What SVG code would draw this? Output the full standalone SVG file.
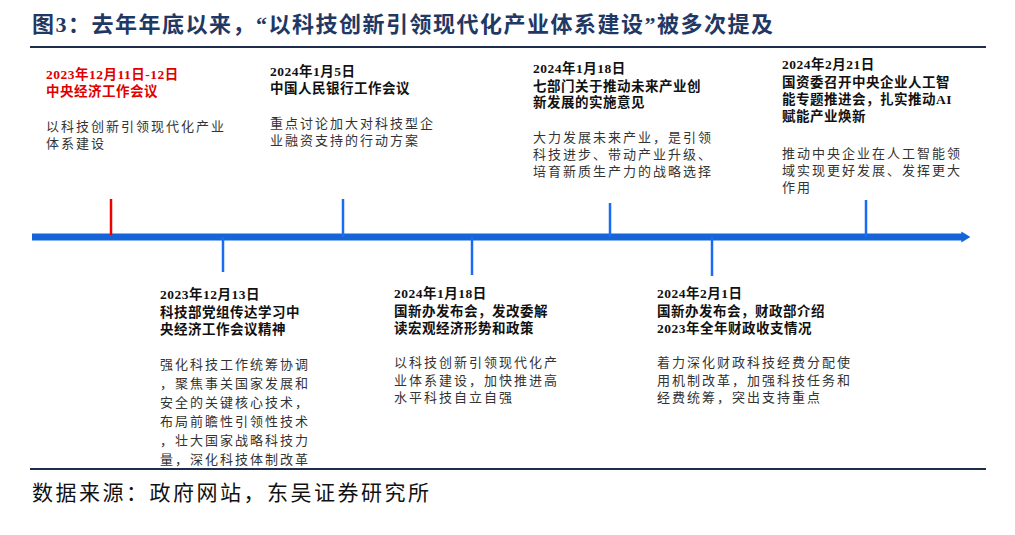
<svg xmlns="http://www.w3.org/2000/svg" width="1015" height="535" viewBox="0 0 1015 535">
<defs>
<style>
text{font-family:"Liberation Serif","Noto Sans CJK SC",serif;font-size:13.5px;fill:#111}
.b{font-weight:bold;letter-spacing:0.5px}
.r{fill:#e00000}
.d{font-size:13px;fill:#333;letter-spacing:2px}
.t{font-size:22px;font-weight:bold;fill:#1f3864;letter-spacing:1.5px}
.s{font-size:21px;fill:#111;letter-spacing:2.5px}
</style>
<marker id="ah" markerWidth="1.3" markerHeight="1.6" refX="0.1" refY="0.8" orient="auto" markerUnits="strokeWidth"><path d="M0,0L1.3,0.8L0,1.6Z" fill="#1565d8"/></marker>
</defs>
<rect width="1015" height="535" fill="#fff"/>
<text class="t" x="32" y="32">图3：去年年底以来，“以科技创新引领现代化产业体系建设”被多次提及</text>
<line x1="30" y1="47" x2="986" y2="47" stroke="#1f2d4d" stroke-width="2"/>
<line x1="30" y1="469" x2="986" y2="469" stroke="#1f2d4d" stroke-width="2"/>
<text class="s" x="32" y="500">数据来源：政府网站，东吴证券研究所</text>
<g id="connectors">
<line x1="32" y1="237" x2="962" y2="237" stroke="#1565d8" stroke-width="7" marker-end="url(#ah)"/>
<g stroke="#1a6cf0" stroke-width="2.5">
<line x1="111" y1="199" x2="111" y2="235" stroke="#f00000"/>
<line x1="223" y1="237" x2="223" y2="272"/>
<line x1="343" y1="199" x2="343" y2="237"/>
<line x1="472" y1="237" x2="472" y2="275"/>
<line x1="610" y1="203" x2="610" y2="237"/>
<line x1="712" y1="237" x2="712" y2="276"/>
<line x1="866" y1="200" x2="866" y2="237"/>
</g>
</g>
<g id="n1">
<text class="b r" x="46" y="79">2023年12月11日-12日</text>
<text class="b r" x="46" y="96">中央经济工作会议</text>
<text class="d r" x="46" y="131">以科技创新引领现代化产业</text>
<text class="d r" x="46" y="148">体系建设</text>
</g>
<g id="n2">
<text class="b" x="270" y="76">2024年1月5日</text>
<text class="b" x="270" y="93">中国人民银行工作会议</text>
<text class="d" x="270" y="128">重点讨论加大对科技型企</text>
<text class="d" x="270" y="145">业融资支持的行动方案</text>
</g>
<g id="n3">
<text class="b" x="533" y="73">2024年1月18日</text>
<text class="b" x="533" y="91">七部门关于推动未来产业创</text>
<text class="b" x="533" y="107">新发展的实施意见</text>
<text class="d" x="533" y="142">大力发展未来产业，是引领</text>
<text class="d" x="533" y="159">科技进步、带动产业升级、</text>
<text class="d" x="533" y="176">培育新质生产力的战略选择</text>
</g>
<g id="n4">
<text class="b" x="782" y="69">2024年2月21日</text>
<text class="b" x="782" y="87">国资委召开中央企业人工智</text>
<text class="b" x="782" y="104">能专题推进会，扎实推动AI</text>
<text class="b" x="782" y="121">赋能产业焕新</text>
<text class="d" x="782" y="158">推动中央企业在人工智能领</text>
<text class="d" x="782" y="175">域实现更好发展、发挥更大</text>
<text class="d" x="782" y="192">作用</text>
</g>
<g id="n5">
<text class="b" x="160" y="299">2023年12月13日</text>
<text class="b" x="160" y="317">科技部党组传达学习中</text>
<text class="b" x="160" y="334">央经济工作会议精神</text>
<text class="d" x="160" y="369">强化科技工作统筹协调</text>
<text class="d" x="160" y="388">，聚焦事关国家发展和</text>
<text class="d" x="160" y="407">安全的关键核心技术，</text>
<text class="d" x="160" y="426">布局前瞻性引领性技术</text>
<text class="d" x="160" y="445">，壮大国家战略科技力</text>
<text class="d" x="160" y="464">量，深化科技体制改革</text>
</g>
<g id="n6">
<text class="b" x="394" y="298">2024年1月18日</text>
<text class="b" x="394" y="316">国新办发布会，发改委解</text>
<text class="b" x="394" y="333">读宏观经济形势和政策</text>
<text class="d" x="394" y="367">以科技创新引领现代化产</text>
<text class="d" x="394" y="385">业体系建设，加快推进高</text>
<text class="d" x="394" y="402">水平科技自立自强</text>
</g>
<g id="n7">
<text class="b" x="657" y="298">2024年2月1日</text>
<text class="b" x="657" y="316">国新办发布会，财政部介绍</text>
<text class="b" x="657" y="333">2023年全年财政收支情况</text>
<text class="d" x="657" y="367">着力深化财政科技经费分配使</text>
<text class="d" x="657" y="385">用机制改革，加强科技任务和</text>
<text class="d" x="657" y="402">经费统筹，突出支持重点</text>
</g>
</svg>
